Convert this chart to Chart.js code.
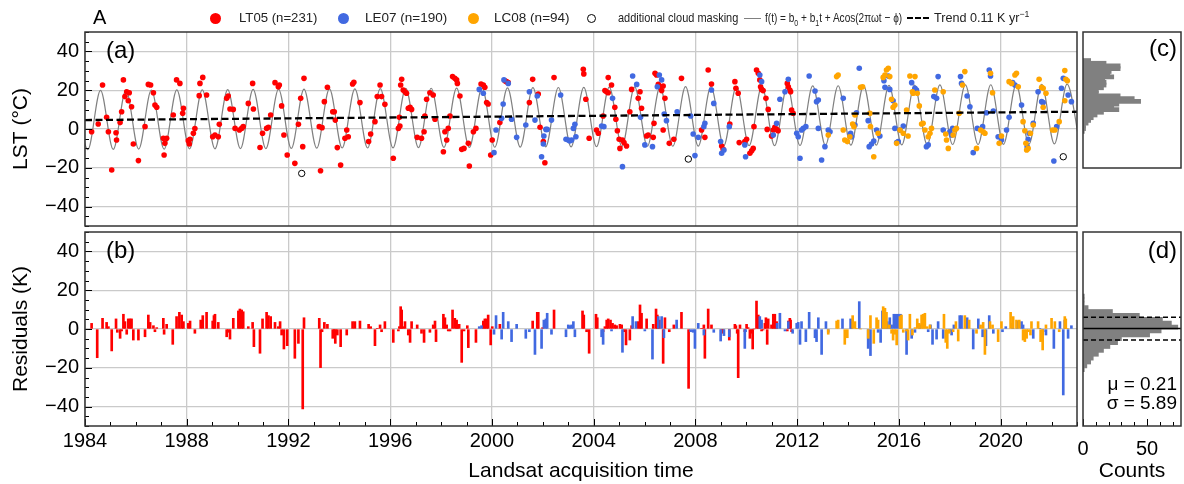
<!DOCTYPE html>
<html>
<head>
<meta charset="utf-8">
<script src="https://cdn.jsdelivr.net/npm/chart.js@4"></script>
<style>
  body { margin: 0; background: #fff; font-family: "Liberation Sans", Arial, sans-serif; }
  #wrap { position: relative; width: 1184px; height: 484px; overflow: hidden; }
  canvas { position: absolute; left: 0; top: 0; }
  .t { position: absolute; white-space: nowrap; color: #000; }
  .lg { position: absolute; top: 10px; font-size: 13px; line-height: 16px; color: #222; white-space: nowrap; transform-origin: left center; }
  .lg sub, .lg sup { font-size: 9px; line-height: 0; }
  .dot { position: absolute; top: 13px; width: 11px; height: 11px; border-radius: 50%; }
  .seg { position: absolute; background: #000; }
</style>
</head>
<body>
<div id="wrap">
  <canvas id="cA" width="1184" height="484"></canvas>
  <canvas id="cB" width="1184" height="484"></canvas>
  <canvas id="cC" width="1184" height="484"></canvas>
  <canvas id="cD" width="1184" height="484"></canvas>

  <div class="t" style="left:93px;top:6px;font-size:20px;">A</div>

  <div class="dot" style="left:210px;background:#ff0000;"></div>
  <div class="lg" data-w="78" style="left:239px;">LT05 (n=231)</div>
  <div class="dot" style="left:338px;background:#4169e1;"></div>
  <div class="lg" data-w="82" style="left:365px;">LE07 (n=190)</div>
  <div class="dot" style="left:468px;background:#ffa500;"></div>
  <div class="lg" data-w="76" style="left:494px;">LC08 (n=94)</div>
  <div class="dot" style="left:587px;top:14px;width:9px;height:9px;border:1px solid #000;box-sizing:border-box;"></div>
  <div class="lg" data-w="120" style="left:618px;">additional cloud masking</div>
  <div class="seg" style="left:744px;top:18px;width:17px;height:1px;background:#808080;"></div>
  <div class="lg" data-w="137" style="left:765px;">f(t) = b<sub>0</sub> + b<sub>1</sub>t + Acos(2πωt − ϕ)</div>
  <div class="seg" style="left:907px;top:17px;width:6px;height:2px;"></div>
  <div class="seg" style="left:915px;top:17px;width:6px;height:2px;"></div>
  <div class="seg" style="left:923px;top:17px;width:6px;height:2px;"></div>
  <div class="lg" data-w="95" style="left:934px;">Trend 0.11 K yr<sup>−1</sup></div>

  <div class="t" style="left:106px;top:36px;font-size:24px;">(a)</div>
  <div class="t" style="left:106px;top:236px;font-size:24px;">(b)</div>
  <div class="t" style="right:7px;top:34px;font-size:24px;">(c)</div>
  <div class="t" style="right:7px;top:236px;font-size:24px;">(d)</div>
  <div class="t" id="muTxt" style="right:7px;top:373px;font-size:19px;"></div>
  <div class="t" id="sdTxt" style="right:7px;top:392px;font-size:19px;"></div>
</div>

<script>
// ---- data ----
// Landsat 5 / 7 / 8 land surface temperature samples [decimal year, LST degC]
const lt05Pts = [
  [1984.26,-1.4],[1984.52,2.6],[1984.69,22.7],[1984.85,6.0],[1984.92,-1.4],[1985.05,-21.1],[1985.22,-1.9],[1985.24,-5.7],[1985.38,3.3],[1985.44,8.9],
  [1985.51,25.3],[1985.57,16.7],[1985.64,19.2],[1985.70,14.6],[1985.74,18.7],[1985.83,11.5],[1985.90,-7.7],[1986.10,-16.3],[1986.36,1.2],[1986.49,23.0],
  [1986.58,22.7],[1986.69,18.7],[1986.75,12.4],[1986.82,11.2],[1987.08,-4.8],[1987.11,-13.4],[1987.14,-7.4],[1987.21,-4.8],[1987.47,7.2],[1987.60,25.3],
  [1987.73,23.5],[1987.87,10.7],[1987.84,8.1],[1988.06,-6.0],[1988.10,-7.7],[1988.13,-5.3],[1988.26,-2.2],[1988.32,0.2],[1988.49,17.2],[1988.52,23.5],
  [1988.63,26.6],[1988.78,17.5],[1989.02,-4.0],[1989.11,-3.1],[1989.24,-4.0],[1989.28,2.4],[1989.57,15.8],[1989.63,17.0],[1989.70,10.3],[1989.83,10.1],
  [1989.90,0.3],[1990.07,-0.5],[1990.16,0.3],[1990.22,1.2],[1990.42,13.2],[1990.59,23.5],[1990.62,10.3],[1990.88,-9.5],[1990.98,-2.2],[1991.14,0.3],
  [1991.21,0.9],[1991.30,7.2],[1991.47,23.9],[1991.60,21.8],[1991.64,22.7],[1991.73,11.9],[1991.82,-3.1],[1991.95,-13.4],[1992.25,-17.7],[1992.39,2.4],
  [1992.48,15.8],[1992.56,-9.1],[1992.61,26.1],[1993.21,1.2],[1993.26,-21.5],[1993.32,0.7],[1993.41,14.1],[1993.53,21.5],[1993.74,8.9],[1993.80,8.9],
  [1993.84,4.6],[1993.92,-9.6],[1994.05,-18.6],[1994.22,-4.8],[1994.29,-0.5],[1994.35,-4.0],[1994.52,23.2],[1994.57,24.1],[1994.81,13.6],[1995.15,-6.5],
  [1995.23,-2.6],[1995.40,3.8],[1995.49,16.7],[1995.60,22.7],[1995.66,16.7],[1995.79,12.7],[1996.12,-15.1],[1996.32,0.3],[1996.36,6.0],[1996.38,1.5],
  [1996.41,22.7],[1996.45,25.6],[1996.51,20.1],[1996.58,19.2],[1996.64,18.4],[1996.71,10.7],[1996.78,11.2],[1996.84,10.1],[1997.06,-4.3],
  [1997.23,-4.8],[1997.33,-1.4],[1997.36,6.7],[1997.43,15.3],[1997.56,18.7],[1997.69,17.5],[1997.76,5.0],[1998.09,-11.7],[1998.15,-1.4],[1998.22,-5.7],
  [1998.28,0.3],[1998.35,6.7],[1998.45,27.0],[1998.54,26.1],[1998.61,25.3],[1998.64,23.5],[1998.74,17.0],[1998.81,-10.5],[1998.90,-10.0],[1999.07,-7.4],
  [1999.11,-19.1],[1999.27,-1.4],[1999.37,0.3],[1999.57,23.2],[1999.66,22.7],[1999.72,21.5],[1999.79,13.6],[1999.85,12.9],[1999.95,-13.4],[2000.01,-5.7],
  [2000.31,3.3],[2000.51,24.9],[2000.57,24.4],[2000.64,23.9],[2001.47,13.6],[2001.60,25.6],[2001.82,18.0],[2001.89,0.9],[2002.02,-6.5],[2002.08,-17.4],
  [2002.44,26.5],[2003.59,30.8],[2003.61,28.4],[2003.69,15.3],[2003.82,-4.8],[2004.11,-0.5],[2004.18,-2.2],[2004.37,6.7],[2004.44,19.8],[2004.51,19.2],
  [2004.57,18.7],[2004.57,26.5],[2004.70,22.7],[2004.83,11.2],[2004.87,5.0],[2004.93,-0.9],[2005.00,-5.3],[2005.03,-10.0],[2005.13,-5.7],[2005.19,-7.0],
  [2005.29,-8.8],[2005.42,8.9],[2005.49,20.4],[2005.75,15.8],[2005.82,19.2],[2005.88,10.7],[2006.08,-3.6],[2006.14,-3.1],[2006.34,-4.3],[2006.37,2.9],
  [2006.41,28.7],[2006.47,27.8],[2006.54,23.0],[2006.60,21.8],[2006.67,19.8],[2006.73,22.2],[2006.80,15.8],[2006.73,-0.5],[2006.97,-7.4],[2007.15,-5.3],
  [2007.45,26.1],[2008.24,-0.5],[2008.37,-4.3],[2008.50,30.4],[2008.63,23.2],[2009.03,-8.8],[2009.09,-10.5],
  [2009.35,2.6],[2009.55,24.4],[2009.59,21.0],[2009.68,18.4],[2009.72,-7.0],[2009.94,-6.5],[2010.01,-5.3],[2010.14,-12.5],[2010.21,-11.2],[2010.27,-10.0],
  [2010.30,1.2],[2010.40,30.4],[2010.47,28.7],[2010.53,25.3],[2010.56,21.8],[2010.60,20.4],[2010.66,19.8],[2010.77,15.8],[2010.82,-0.2],[2010.86,10.1],
  [2010.99,-3.6],[2011.06,-0.5],[2011.12,0.9],[2011.19,-0.2],[2011.25,-0.9],[2011.61,23.5],[2011.65,21.8],[2011.71,20.1],[2011.74,19.2],[2011.78,9.8],
  [2011.84,8.1]
];
const le07Pts = [
  [1999.50,20.4],[1999.66,18.4],[2000.08,-12.2],[2000.16,-0.5],[2000.38,5.5],[2000.44,12.9],[2000.47,25.3],[2000.64,23.5],[2000.77,5.0],[2000.97,-4.3],
  [2001.33,2.1],[2001.47,19.2],[2001.69,4.6],[2001.78,17.0],[2001.95,-14.3],[2002.02,-7.7],[2002.04,-3.6],[2002.12,-0.2],[2002.17,-0.2],[2002.34,4.6],
  [2002.70,17.5],[2002.91,-5.3],[2003.00,-5.7],[2003.06,-6.2],[2003.13,-5.7],[2003.20,0.3],[2003.26,2.4],[2003.30,-4.0],[2004.31,1.5],[2004.40,1.2],
  [2004.74,15.8],[2005.13,-19.4],[2005.53,27.3],[2005.69,23.0],[2005.84,6.0],[2006.01,-8.2],[2006.31,-9.1],[2006.50,21.8],[2006.58,27.8],[2006.67,25.3],
  [2006.77,7.7],[2006.86,4.3],[2007.28,8.9],[2007.81,6.7],[2007.91,-2.6],[2007.98,-13.7],[2008.11,-4.3],[2008.33,1.2],[2008.37,2.9],[2008.63,20.1],
  [2008.72,13.2],[2008.99,-6.5],[2009.03,-12.5],[2009.12,-10.8],[2009.33,1.2],
  [2009.94,-8.2],[2009.97,-14.3],[2010.53,27.8],[2010.60,24.4],[2011.06,-3.1],[2011.19,2.9],[2011.32,15.3],[2011.52,19.2],[2011.65,25.6],[2011.98,-2.2],
  [2012.04,-4.0],[2012.11,-15.1],[2012.17,-0.5],[2012.24,0.3],[2012.34,1.2],[2012.47,27.3],[2012.70,19.6],[2012.76,14.1],[2012.83,14.9],[2012.83,0.3],
  [2012.96,-16.0],[2013.09,-9.1],[2013.22,-0.5],[2013.29,-1.4],[2013.81,15.8],[2014.10,-2.2],[2014.14,-4.0],[2014.27,2.1],[2014.33,8.4],[2014.44,31.3],
  [2014.79,4.3],[2014.83,-9.1],[2014.92,-7.7],[2015.01,-6.2],[2015.12,-0.5],[2015.25,-3.6],[2015.41,24.9],[2015.45,21.5],[2015.58,27.3],[2015.64,20.4],
  [2015.77,14.6],[2015.84,0.3],[2015.91,-7.0],[2015.97,-6.5],[2016.04,-0.5],[2016.17,1.5],[2016.50,23.9],[2016.63,21.0],[2016.69,20.1],[2017.08,-9.1],
  [2017.15,-8.2],[2017.37,16.7],[2017.48,15.8],[2017.54,27.0],[2017.74,-0.5],[2018.00,-1.4],[2018.07,-3.1],[2018.11,0.3],[2018.42,27.0],[2018.46,23.5],
  [2018.68,17.0],[2018.79,11.5],[2018.92,-12.2],[2019.08,0.3],[2019.29,1.2],[2019.44,8.4],[2019.55,30.4],[2019.60,27.3],[2019.71,9.3],[2019.90,-4.0],
  [2020.03,-5.7],[2020.23,-0.5],[2020.33,6.0],[2020.47,23.9],[2020.56,22.7],[2020.82,12.4],[2021.04,-9.1],[2021.08,-5.3],[2021.12,-2.2],[2021.28,2.9],
  [2021.47,19.2],[2021.61,14.1],[2021.67,13.6],[2022.09,-16.5],[2022.20,1.2],[2022.39,21.0],[2022.46,26.1],[2022.65,17.5],[2022.78,14.1]
];
const lc08Pts = [
  [2013.22,-3.1],[2013.55,27.0],[2013.61,27.8],[2013.81,-0.5],[2013.87,-5.7],[2013.97,-6.5],[2014.07,-4.0],[2014.18,2.6],[2014.23,1.2],[2014.27,7.2],
  [2014.49,21.5],[2014.57,21.8],[2014.86,8.1],[2014.88,1.2],[2015.01,-14.3],[2015.18,-2.2],[2015.38,26.6],[2015.45,27.8],[2015.51,30.4],[2015.58,31.3],
  [2015.64,27.0],[2015.71,15.3],[2015.77,11.2],[2015.84,12.4],[2015.91,-7.4],[2016.04,-0.5],[2016.17,-2.2],[2016.30,9.8],[2016.36,-3.6],[2016.43,27.3],
  [2016.53,19.2],[2016.56,18.4],[2016.63,27.0],[2016.72,18.4],[2016.80,11.9],[2016.89,2.6],[2016.95,2.9],[2017.02,-0.5],[2017.15,-4.0],[2017.22,-2.2],
  [2017.28,0.3],[2017.41,20.1],[2017.74,19.2],[2017.84,-2.6],[2017.87,-5.7],[2017.94,-10.0],[2018.13,-3.1],[2018.20,-0.5],[2018.26,0.3],[2018.37,8.1],
  [2018.50,22.7],[2018.59,29.6],[2019.05,-10.0],[2019.21,-0.5],[2019.31,-1.4],[2019.38,-2.2],[2019.60,28.7],[2019.68,18.7],[2019.94,-7.4],[2020.03,-3.6],
  [2020.33,24.4],[2020.43,23.5],[2020.56,27.8],[2020.62,28.7],[2020.69,21.8],[2020.88,3.8],[2020.95,-0.9],[2020.99,-7.4],[2021.02,-10.8],[2021.08,-10.0],
  [2021.17,-2.2],[2021.28,2.1],[2021.51,25.6],[2021.61,21.5],[2021.67,21.0],[2021.78,18.4],[2021.67,11.2],[2022.04,-0.5],[2022.13,-0.5],[2022.30,3.8],
  [2022.52,30.1],[2022.56,25.6],[2022.62,24.9],[2022.52,14.6]
];
// scenes removed by the additional cloud masking
const maskPts = [[1992.52,-22.9],[2007.72,-15.5],[2022.46,-14.3]];

// residuals of each scene from the fitted curve [decimal year, K]
const lt05Res = [
  [1984.26,2.9],[1984.48,-14.8],[1984.69,5.5],[1984.85,3.4],[1984.92,1.2],[1985.05,-11.3],[1985.22,5.2],[1985.27,-1.7],[1985.38,-4.8],[1985.44,-1.0],
  [1985.51,7.6],[1985.57,3.8],[1985.64,-2.7],[1985.70,5.2],[1985.77,5.2],[1985.83,5.2],[1985.90,-5.7],[1986.10,-5.7],[1986.36,-4.0],[1986.49,7.2],
  [1986.56,3.4],[1986.69,1.7],[1986.75,-1.4],[1986.82,0.7],[1987.08,5.5],[1987.11,-2.7],[1987.21,2.4],[1987.45,-7.9],[1987.60,6.4],[1987.71,8.6],
  [1987.80,7.2],[1987.87,3.8],[1988.06,2.9],[1988.13,4.1],[1988.32,-2.2],[1988.55,4.6],[1988.63,6.9],[1988.78,8.6],[1989.02,4.1],[1989.07,6.9],
  [1989.11,7.6],[1989.24,3.4],[1989.57,-4.0],[1989.63,-1.7],[1989.70,-5.2],[1989.83,5.5],[1990.03,9.3],[1990.09,10.3],[1990.16,9.8],[1990.22,8.9],
  [1990.42,1.2],[1990.59,3.4],[1990.64,-9.1],[1990.88,-12.5],[1990.98,5.2],[1991.14,8.6],[1991.21,6.9],[1991.30,6.4],[1991.47,3.4],[1991.60,1.2],
  [1991.67,3.8],[1991.73,-3.1],[1991.82,-10.3],[1991.95,-8.6],[1992.25,-15.1],[1992.39,-7.4],[1992.56,-41.2],[1992.61,5.8],[1993.21,5.5],[1993.26,-19.9],
  [1993.32,-1.4],[1993.41,3.4],[1993.53,2.4],[1993.74,-4.8],[1993.80,-1.0],[1993.84,-7.4],[1993.92,-3.1],[1994.05,-9.1],[1994.29,-3.1],[1994.52,3.8],
  [1994.61,3.8],[1994.81,4.1],[1995.15,2.4],[1995.23,1.2],[1995.40,-8.6],[1995.49,0.3],[1995.60,2.1],[1995.66,-1.4],[1995.79,3.8],[1996.12,-6.9],
  [1996.32,-1.0],[1996.36,1.2],[1996.41,11.5],[1996.45,9.8],[1996.51,1.2],[1996.58,3.8],[1996.71,-3.1],[1996.78,-6.9],[1996.84,3.8],[1997.06,2.1],
  [1997.23,-2.2],[1997.33,-6.9],[1997.56,-1.7],[1997.69,2.1],[1997.76,4.1],[1997.80,-6.5],[1998.09,7.6],[1998.15,5.8],[1998.22,2.1],[1998.28,-1.0],
  [1998.35,-1.0],[1998.45,9.8],[1998.54,5.5],[1998.61,4.6],[1998.64,2.1],[1998.71,2.4],[1998.81,-17.2],[1998.90,-1.0],[1999.03,1.7],[1999.07,-9.6],
  [1999.37,-6.9],[1999.66,4.1],[1999.72,5.2],[1999.79,5.2],[1999.85,7.2],[1999.95,-8.2],[2000.01,1.2],[2000.31,2.4],[2001.60,4.1],[2001.78,8.6],
  [2001.82,8.6],[2001.99,0.7],[2002.44,9.8],[2003.56,9.3],[2003.61,7.2],[2003.72,-1.4],[2003.82,-12.5],[2004.09,7.6],[2004.14,5.8],[2004.37,-1.4],
  [2004.44,1.2],[2004.51,4.6],[2004.57,5.2],[2004.66,4.6],[2004.74,2.9],[2004.83,2.1],[2004.90,1.7],[2005.03,2.4],[2005.10,2.1],[2005.19,-1.4],
  [2005.27,-8.2],[2005.42,-5.7],[2005.49,1.7],[2005.75,3.8],[2005.82,12.4],[2005.88,8.1],[2006.08,5.2],[2006.34,2.4],[2006.45,10.3],[2006.50,7.2],
  [2006.58,4.6],[2006.73,-17.7],[2006.80,5.8],[2006.97,-1.4],[2007.15,2.1],[2007.45,8.6],[2007.73,-30.6],[2008.24,0.3],[2008.33,2.1],[2008.37,-15.1],
  [2008.50,10.3],[2008.63,2.1],[2009.03,-1.4],[2009.09,-2.2],[2009.33,-5.7],
  [2009.55,2.4],[2009.59,1.7],[2009.64,-2.2],[2009.68,-25.1],[2009.75,2.1],[2009.94,-1.4],[2010.01,2.4],[2010.07,0.7],[2010.14,-4.8],[2010.21,-2.2],
  [2010.25,-10.3],[2010.30,0.0],[2010.40,14.4],[2010.47,7.2],[2010.53,3.8],[2010.60,-1.0],[2010.66,-0.5],[2010.73,2.9],[2010.77,5.8],[2010.82,-7.9],
  [2010.86,5.2],[2010.99,2.1],[2011.06,7.6],[2011.12,7.6],[2011.19,3.8],[2011.61,-1.0],[2011.65,4.1],[2011.71,5.5],[2011.74,4.6],[2011.78,-1.4]
];
const le07Res = [
  [1999.50,1.2],[1999.59,1.7],[2000.08,-2.7],[2000.16,6.9],[2000.38,-5.2],[2000.44,8.6],[2000.64,3.8],[2000.77,-6.5],[2000.97,2.4],[2001.33,-4.8],
  [2001.47,-1.4],[2001.69,-13.1],[2001.95,-10.0],[2002.04,4.6],[2002.12,5.2],[2002.17,8.1],[2002.34,-2.7],[2002.91,-4.0],[2003.00,2.1],[2003.06,1.7],
  [2003.13,2.1],[2003.20,3.8],[2003.26,-4.0],[2004.31,-4.0],[2004.37,-7.9],[2004.70,-1.0],[2005.13,-12.0],[2005.53,6.4],[2005.66,3.8],[2006.01,-1.0],
  [2006.31,-15.5],[2006.54,6.4],[2006.67,6.4],[2006.76,-4.5],[2007.26,4.6],[2007.81,-1.4],[2007.91,-1.7],[2007.98,-10.0],[2008.11,2.9],[2008.33,-3.1],
  [2008.72,-1.7],[2008.99,-6.2],[2009.12,-3.4],[2009.33,-4.0],
  [2009.94,-10.0],[2009.97,-1.4],[2010.53,6.4],[2010.60,4.6],[2011.21,2.9],[2011.32,8.1],[2011.52,-1.0],[2011.65,3.8],[2011.82,-2.2],[2011.98,2.9],
  [2012.04,3.4],[2012.11,-7.9],[2012.17,3.8],[2012.34,-6.5],[2012.47,8.6],[2012.70,-4.5],[2012.76,-6.5],[2012.83,5.8],[2012.96,-13.1],[2013.13,3.8],
  [2013.22,-1.7],[2013.78,5.2],[2014.10,5.2],[2014.14,3.4],[2014.44,14.1],[2014.79,-10.0],[2014.88,-13.7],[2015.18,-1.7],[2015.28,-6.9],[2015.35,9.3],
  [2015.45,7.2],[2015.54,3.8],[2015.64,5.8],[2015.71,2.1],[2015.80,7.6],[2015.88,7.6],[2015.97,7.6],[2016.06,7.6],[2016.30,-13.1],[2016.50,-4.8],
  [2016.63,-1.7],[2016.82,2.1],[2017.15,-1.4],[2017.24,2.1],[2017.32,-7.9],[2017.48,-5.2],[2017.54,3.8],[2017.74,-4.8],[2018.00,-1.4],[2018.07,-3.1],
  [2018.16,2.1],[2018.39,6.9],[2018.46,6.9],[2018.68,5.8],[2018.92,-10.3],[2019.12,5.2],[2019.29,-4.0],[2019.42,-8.6],[2019.55,6.9],[2019.71,-2.2],
  [2020.07,-1.4],[2020.20,1.2],[2020.47,2.9],[2020.65,4.1],[2020.82,3.8],[2020.88,2.1],[2021.28,-4.8],[2021.54,0.3],[2021.67,-1.4],[2021.78,-3.1],
  [2022.09,-10.0],[2022.33,3.8],[2022.46,-34.0],[2022.52,4.6],[2022.65,-4.8],[2022.78,1.7]
];
const lc08Res = [
  [2013.22,-2.7],[2013.55,4.1],[2013.61,4.6],[2013.87,-7.9],[2013.97,-4.5],[2014.18,6.9],[2014.27,3.8],[2014.33,0.3],[2014.49,0.0],[2014.79,-4.8],
  [2014.88,6.9],[2015.01,-7.4],[2015.12,5.8],[2015.18,4.6],[2015.38,11.5],[2015.45,10.7],[2015.51,8.6],[2015.62,2.1],[2015.71,-2.2],[2015.77,-5.7],
  [2015.84,-2.7],[2015.91,-8.2],[2016.04,6.4],[2016.10,7.2],[2016.17,-1.7],[2016.30,-1.0],[2016.36,-5.7],[2016.43,7.6],[2016.53,-3.1],[2016.63,0.7],
  [2016.72,5.2],[2016.80,2.9],[2016.89,7.2],[2016.95,7.6],[2017.02,8.1],[2017.11,1.2],[2017.22,2.1],[2017.77,7.6],[2017.84,-6.9],[2017.90,-10.0],
  [2017.98,-2.2],[2018.13,-1.4],[2018.24,3.8],[2018.33,-6.2],[2018.59,6.9],[2018.76,4.6],[2019.05,-2.2],[2019.21,2.1],[2019.31,3.4],[2019.38,-13.1],
  [2019.58,3.8],[2019.68,2.1],[2019.90,-6.5],[2020.03,3.8],[2020.39,8.6],[2020.49,6.4],[2020.62,4.6],[2020.73,4.6],[2020.88,-5.7],[2020.95,-6.5],
  [2021.02,-4.8],[2021.08,-1.4],[2021.17,-3.1],[2021.21,3.8],[2021.47,3.8],[2021.57,-6.5],[2021.65,-10.8],[2021.78,2.1],[2022.00,5.5],[2022.13,3.8],
  [2022.30,-1.4],[2022.52,6.4],[2022.56,5.2],[2022.62,0.3]
];

// fitted seasonal curve: summer maxima (years 1983..2022, ~day 0.61) and winter minima (1984..2023, ~day 0.11)
const curvePeakYear0 = 1983, curvePeakPhase = 0.61, curveTroughPhase = 0.11;
const curvePeaks = [19.8,19.9,20.0,20.1,20.2,20.2,20.3,20.4,20.5,20.6,20.7,20.7,20.8,20.9,21.0,21.1,21.2,21.2,21.3,21.4,
                    21.5,21.6,21.7,21.7,21.8,21.9,22.0,22.1,22.2,22.2,22.3,22.4,22.5,22.6,22.7,22.7,22.8,22.9,23.0,23.1];
const curveTroughs = [-10.6,-10.5,-10.4,-10.4,-10.3,-10.2,-10.1,-10.1,-10.0,-9.9,-9.8,-9.8,-9.7,-9.6,-9.5,-9.5,-9.4,-9.3,-9.2,-9.2,
                      -9.1,-9.0,-8.9,-8.9,-8.8,-8.7,-8.6,-8.6,-8.5,-8.4,-8.3,-8.3,-8.2,-8.1,-8.0,-8.0,-7.9,-7.8,-7.7,-7.7];
const trendT = [1984, 2023];
const trendV = [4.6, 8.9];

// histograms (bin centres and counts)
const lstBins = [29,27,25,23,21,19,17,15,13,11,9,7,5,3,1,-1,-3,-5,-7,-9,-11,-13,-15,-17,-19,-21,-23];
const lstCounts = [6,18,29,29,22,21,24,17,18,18,16,12,12,29,40,45,28,24,28,16,11,8,6,4,2,2,1];
const resBins = [17,15,13,11,9,7,5,3,1,-1,-3,-5,-7,-9,-11,-13,-15,-17,-19,-21];
const resCounts = [1,1,1,4,23,44,62,69,74,61,52,30,27,21,16,12,8,6,3,1];
const resMu = 0.21, resSigma = 5.89;

// axes
const yearTicks = [1984,1988,1992,1996,2000,2004,2008,2012,2016,2020];
const valueTicks = [-40,-20,0,20,40];
const countTicks = [0,50];

// ---- drawing ----
const RED = '#ff0000', BLUE = '#4169e1', ORANGE = '#ffa500', GREY = '#808080', GRID = '#cacaca';
Chart.defaults.font.family = '"Liberation Sans", Arial, sans-serif';
Chart.defaults.color = '#000';
Chart.defaults.animation = false;
Chart.defaults.events = [];
Chart.defaults.plugins.legend.display = false;
Chart.defaults.plugins.tooltip.enabled = false;

document.getElementById('muTxt').textContent = 'μ = ' + resMu.toFixed(2);
document.getElementById('sdTxt').textContent = 'σ = ' + resSigma.toFixed(2);
// squeeze legend labels to the widths seen in the figure
document.querySelectorAll('[data-w]').forEach(el => {
  el.style.transform = 'scaleX(' + (+el.dataset.w / el.offsetWidth) + ')';
});

const xy = arr => arr.map(([x, y]) => ({ x, y }));
const minus = v => (v < 0 ? '\u2212' + Math.abs(v) : String(v));
const setTicks = vals => s => { s.ticks = vals.map(v => ({ value: v })); };

const curvePts = [];
curvePeaks.forEach((p, i) => {
  curvePts.push({ x: curvePeakYear0 + i + curvePeakPhase, y: p });
  curvePts.push({ x: curvePeakYear0 + i + 1 + curveTroughPhase, y: curveTroughs[i] });
});

// frame + inward tick marks
const frameTicks = {
  id: 'frameTicks',
  afterDraw(chart, args, opts) {
    const { ctx, chartArea: a, scales } = chart;
    ctx.save();
    ctx.strokeStyle = '#000';
    ctx.lineWidth = 1;
    ctx.beginPath();
    if (opts.y) {
      const [step, major] = opts.y, s = scales.y;
      for (let v = s.min; v <= s.max; v += step) {
        const p = Math.round(s.getPixelForValue(v)) + 0.5;
        const len = v % major === 0 ? 7 : 4;
        ctx.moveTo(a.left, p); ctx.lineTo(a.left + len, p);
      }
    }
    if (opts.x) {
      const [step, major, origin] = opts.x, s = scales.x;
      for (let v = s.min; v <= s.max; v += step) {
        const p = Math.round(s.getPixelForValue(v)) + 0.5;
        const len = (v - origin) % major === 0 ? 7 : 4;
        ctx.moveTo(p, a.bottom); ctx.lineTo(p, a.bottom - len);
      }
    }
    ctx.stroke();
    ctx.strokeStyle = '#333';
    ctx.lineWidth = 1.5;
    ctx.strokeRect(a.left, a.top, a.right - a.left, a.bottom - a.top);
    ctx.restore();
  }
};

// mean and +-sigma lines on the residual histogram
const statLines = {
  id: 'statLines',
  afterDatasetsDraw(chart, args, opts) {
    if (!opts.on) return;
    const { ctx, chartArea: a, scales } = chart;
    const lines = [[resMu, []], [resMu + resSigma, [5, 3]], [resMu - resSigma, [5, 3]]];
    ctx.save();
    ctx.strokeStyle = '#000';
    ctx.lineWidth = 1.5;
    lines.forEach(([v, dash]) => {
      const p = scales.y.getPixelForValue(v);
      ctx.setLineDash(dash);
      ctx.beginPath(); ctx.moveTo(a.left, p); ctx.lineTo(a.right, p); ctx.stroke();
    });
    ctx.restore();
  }
};

const timeAxis = (showLabels) => ({
  type: 'linear', min: 1984, max: 2023, offset: false,
  afterBuildTicks: setTicks(yearTicks),
  ticks: { display: showLabels, font: { size: 20 }, padding: 3, maxRotation: 0, autoSkip: false, callback: v => String(v) },
  grid: { color: GRID, lineWidth: 1.3, drawTicks: false, offset: false },
  border: { display: false },
  title: { display: showLabels, text: 'Landsat acquisition time', font: { size: 21 }, padding: { top: 4, bottom: 0 } },
  afterFit: s => { s.height = showLabels ? 58 : 0; }
});
const valueAxis = (title) => ({
  type: 'linear', min: -50, max: 50,
  afterBuildTicks: setTicks(valueTicks),
  ticks: { font: { size: 20 }, padding: 6, callback: minus },
  grid: { color: GRID, lineWidth: 1.3, drawTicks: false },
  border: { display: false },
  title: { display: true, text: title, font: { size: 21 }, padding: { top: 9, bottom: 0 } },
  afterFit: s => { s.width = 85; }
});

// (a) LST time series
new Chart(document.getElementById('cA'), {
  type: 'scatter',
  data: {
    datasets: [
      { type: 'line', data: trendT.map((t, i) => ({ x: t, y: trendV[i] })), borderColor: '#000', borderWidth: 2.3,
        borderDash: [7, 3.5], pointRadius: 0 },
      { data: xy(maskPts), pointRadius: 3.2, borderWidth: 1, borderColor: '#000', backgroundColor: 'rgba(0,0,0,0)' },
      { data: xy(lc08Pts), pointRadius: 2.8, borderWidth: 0, backgroundColor: ORANGE },
      { data: xy(le07Pts), pointRadius: 2.8, borderWidth: 0, backgroundColor: BLUE },
      { data: xy(lt05Pts), pointRadius: 2.8, borderWidth: 0, backgroundColor: RED },
      { type: 'line', data: curvePts, borderColor: GREY, borderWidth: 1.2, pointRadius: 0, cubicInterpolationMode: 'monotone' }
    ]
  },
  options: {
    responsive: false,
    layout: { padding: { left: 0, top: 32, right: 107, bottom: 258 } },
    scales: { x: timeAxis(false), y: valueAxis('LST (°C)') },
    plugins: { frameTicks: { y: [5, 20] } }
  },
  plugins: [frameTicks]
});

// (b) residuals
const resSet = (d, c) => ({ data: xy(d), backgroundColor: c, borderWidth: 0, barThickness: 2, grouped: false });
new Chart(document.getElementById('cB'), {
  type: 'bar',
  data: { datasets: [resSet(lc08Res, ORANGE), resSet(le07Res, BLUE), resSet(lt05Res, RED)] },
  options: {
    responsive: false,
    layout: { padding: { left: 0, top: 232, right: 107, bottom: 0 } },
    scales: { x: timeAxis(true), y: valueAxis('Residuals (K)') },
    plugins: { frameTicks: { y: [5, 20], x: [1, 4, 1984] } }
  },
  plugins: [frameTicks]
});

// (c) and (d) histograms: 2 K bins, 1.94 px per K -> ~4 px thick bars
function histChart(id, bins, counts, top, showAxis, stats) {
  return new Chart(document.getElementById(id), {
    type: 'bar',
    data: { datasets: [{ data: bins.map((b, i) => ({ x: counts[i], y: b })), backgroundColor: GREY, borderWidth: 0,
      barThickness: 4.1, grouped: false }] },
    options: {
      responsive: false,
      indexAxis: 'y',
      layout: { padding: { left: 1083, top: top, right: 3, bottom: showAxis ? 0 : 258 } },
      scales: {
        y: { type: 'linear', min: -50, max: 50, offset: false, display: false },
        x: {
          type: 'linear', min: 0, max: 76.5, display: showAxis,
          afterBuildTicks: setTicks(countTicks),
          ticks: { font: { size: 20 }, padding: 3, maxRotation: 0 },
          grid: { display: false },
          border: { display: false },
          title: { display: true, text: 'Counts', font: { size: 21 }, padding: { top: 4, bottom: 0 } },
          afterFit: s => { s.height = 58; }
        }
      },
      plugins: { frameTicks: showAxis ? { x: [10, 50, 0] } : {}, statLines: { on: stats } }
    },
    plugins: [frameTicks, statLines]
  });
}
histChart('cC', lstBins, lstCounts, 32, false, false);
histChart('cD', resBins, resCounts, 232, true, true);
</script>
</body>
</html>
